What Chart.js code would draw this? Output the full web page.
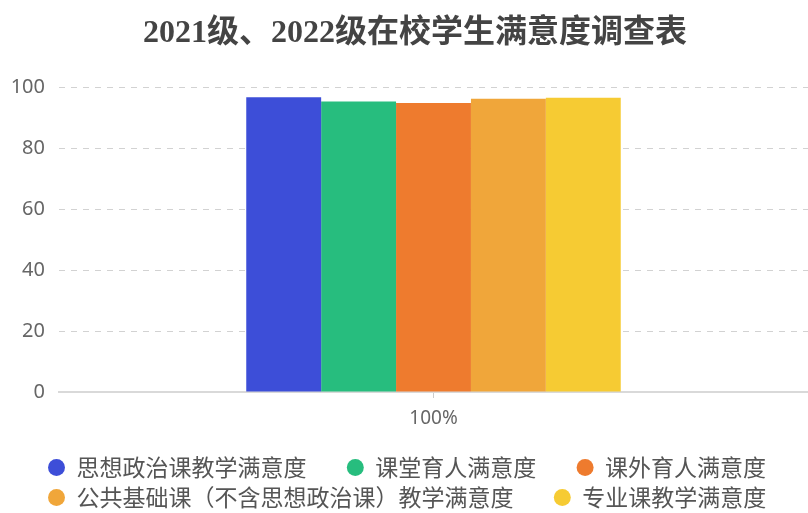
<!DOCTYPE html>
<html>
<head>
<meta charset="utf-8">
<script src="https://cdn.jsdelivr.net/npm/chart.js@4/dist/chart.umd.min.js"></script>
<style>
  html, body { margin: 0; padding: 0; background: #fff; }
  #wrap { width: 808px; height: 513px; position: relative; }
</style>
</head>
<body>
<div id="wrap"><canvas id="chart"></canvas></div>
<script>
// Survey data
const titleText = '2021级、2022级在校学生满意度调查表';
const categories = ['100%'];
const seriesNames = [
  '思想政治课教学满意度',
  '课堂育人满意度',
  '课外育人满意度',
  '公共基础课（不含思想政治课）教学满意度',
  '专业课教学满意度'
];
const seriesValues = [96.8, 95.4, 94.9, 96.3, 96.6];
const yTickValues = [0, 20, 40, 60, 80, 100];

// Colours for each series
const palette = ['#3d4ed8', '#27bd7e', '#ee7b2e', '#f0a63a', '#f6cb33'];

Chart.defaults.font.family = '"Noto Sans", "Noto Sans CJK SC", sans-serif';

// Legend in the reference starts a bit further right than the y axis labels
const legendIndent = {
  id: 'legendIndent',
  afterLayout(chart) {
    if (chart.legend) chart.legend.left = 41;
  }
};

const datasets = seriesNames.map((name, i) => ({
  label: name,
  data: [seriesValues[i]],
  backgroundColor: palette[i],
  borderWidth: 0
}));

const ctx = document.getElementById('chart').getContext('2d');
new Chart(ctx, {
  type: 'bar',
  data: { labels: categories, datasets: datasets },
  plugins: [legendIndent],
  options: {
    responsive: true,
    maintainAspectRatio: false,
    animation: false,
    layout: { padding: { left: 12, right: -10, top: 0, bottom: -6 } },
    datasets: {
      bar: { categoryPercentage: 0.5, barPercentage: 1 }
    },
    plugins: {
      title: {
        display: true,
        text: titleText,
        color: '#444',
        font: { family: '"Liberation Serif", "Noto Sans CJK SC", serif', size: 32, weight: 'bold' },
        padding: { top: 15, bottom: 34 }
      },
      legend: {
        position: 'bottom',
        align: 'start',
        labels: {
          usePointStyle: true,
          pointStyle: 'circle',
          boxWidth: 17,
          boxHeight: 12,
          padding: 7,
          color: '#555',
          font: { family: '"Noto Sans CJK SC", sans-serif', size: 23 },
          generateLabels(chart) {
            const items = Chart.defaults.plugins.legend.labels.generateLabels(chart);
            // extra room between legend entries
            items.forEach(item => { item.text = item.text + '\u3000  '; });
            return items;
          }
        }
      },
      tooltip: { enabled: false }
    },
    scales: {
      x: {
        grid: {
          offset: false,
          drawOnChartArea: false,
          drawTicks: true,
          tickLength: 6,
          color: '#ccc'
        },
        border: { display: true, color: '#d9d9d9', width: 2 },
        ticks: {
          color: '#666',
          padding: 9,
          font: { size: 19 }
        },
        afterFit(scale) {
          scale.height = 57;
        }
      },
      y: {
        min: 0,
        max: 100,
        afterBuildTicks(scale) {
          scale.ticks = yTickValues.map(v => ({ value: v }));
        },
        afterFit(scale) {
          scale.width = 47;
        },
        grid: {
          drawTicks: false,
          color: '#d2d2d2',
          lineWidth: 1
        },
        border: { display: false, dash: [6, 6] },
        ticks: {
          color: '#666',
          padding: 14,
          font: { size: 20 }
        }
      }
    }
  }
});
</script>
</body>
</html>
